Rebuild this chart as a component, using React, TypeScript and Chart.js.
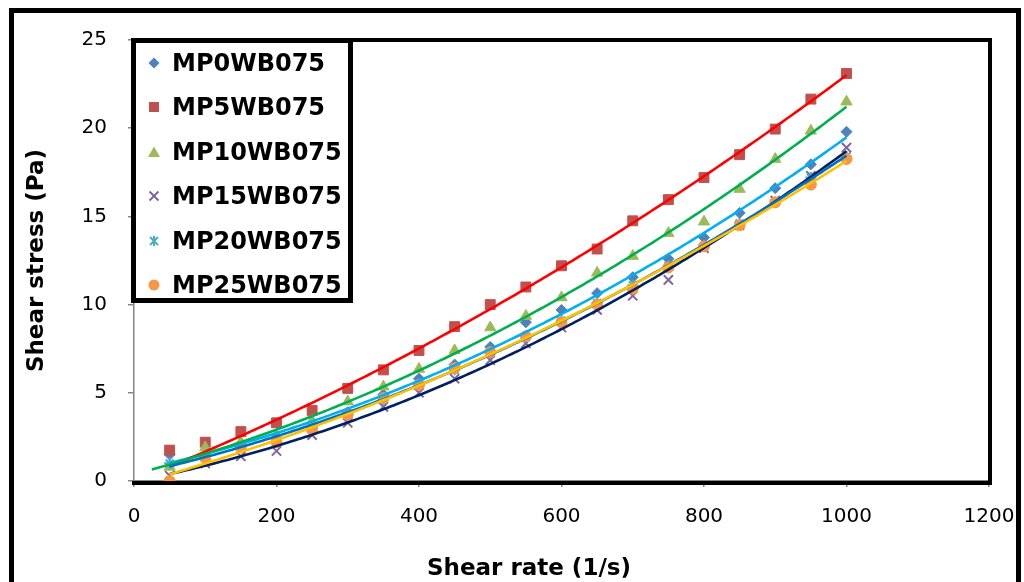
import React, { useEffect, useRef } from "react";
import { Chart, registerables } from "chart.js";

Chart.register(...registerables);

// ---------- data ----------
const shearRate = [50, 100, 150, 200, 250, 300, 350, 400, 450, 500, 550, 600, 650, 700, 750, 800, 850, 900, 950, 1000];

const mp0wb075 = [1.5, 1.4, 2.0, 2.4, 3.1, 3.9, 4.9, 5.8, 6.6, 7.6, 9.0, 9.7, 10.65, 11.55, 12.6, 13.8, 15.2, 16.6, 17.95, 19.8];
const mp5wb075 = [1.75, 2.2, 2.8, 3.3, 4.0, 5.25, 6.3, 7.4, 8.75, 10.0, 11.0, 12.2, 13.15, 14.75, 15.95, 17.2, 18.5, 19.95, 21.65, 23.1];
const mp10wb075 = [0.8, 1.9, 2.2, 2.6, 3.4, 4.5, 5.35, 6.35, 7.4, 8.7, 9.35, 10.4, 11.8, 12.75, 14.05, 14.7, 16.55, 18.25, 19.85, 21.5];
const mp15wb075 = [0.3, 1.0, 1.4, 1.7, 2.6, 3.3, 4.2, 5.0, 5.8, 6.85, 7.8, 8.7, 9.7, 10.5, 11.4, 13.2, 14.5, 15.9, 17.3, 18.9];
const mp20wb075 = [1.0, 1.4, 1.9, 2.4, 3.0, 3.8, 4.6, 5.5, 6.3, 7.3, 8.2, 9.1, 10.1, 11.1, 12.2, 13.3, 14.6, 15.8, 17.2, 18.4];
const mp25wb075 = [0.0, 1.3, 1.9, 2.2, 2.9, 3.75, 4.7, 5.45, 6.4, 7.3, 8.2, 9.0, 10.0, 10.9, 12.1, 13.3, 14.5, 15.8, 16.8, 18.25];

const seriesNames = ["MP0WB075", "MP5WB075", "MP10WB075", "MP15WB075", "MP20WB075", "MP25WB075"];
const seriesValues = [mp0wb075, mp5wb075, mp10wb075, mp15wb075, mp20wb075, mp25wb075];

// trendline settings (second-order polynomial fits, as in the spreadsheet)
const trendZeroIntercept = [false, true, false, false, false, false];
const trendStartX = [50, 50, 25, 50, 50, 50];
const trendEndX = 1000;

const xTickValues = [0, 200, 400, 600, 800, 1000, 1200];
const yTickValues = [0, 5, 10, 15, 20, 25];

const xTitle = "Shear rate (1/s)";
const yTitle = "Shear stress (Pa)";

// ---------- styles ----------
const markerStyles = [
  { pointStyle: "rectRot", radius: 5.5, color: "#4F81BD", borderWidth: 1 },
  { pointStyle: "rect", radius: 7, color: "#C0504D", borderWidth: 1 },
  { pointStyle: "triangle", radius: 6.5, color: "#9BBB59", borderWidth: 1 },
  { pointStyle: "crossRot", radius: 6.5, color: "#8064A2", borderWidth: 2 },
  { pointStyle: "star", radius: 5.5, color: "#4BACC6", borderWidth: 2 },
  { pointStyle: "circle", radius: 5.5, color: "#F79646", borderWidth: 1 },
];
const trendColors = ["#00B0F0", "#FF0000", "#00B050", "#002060", "#0070C0", "#FFC000"];

const FONT = "'DejaVu Sans', 'Open Sans', sans-serif";

// ---------- least squares polynomial (order 2) ----------
function polyFit(xs: number[], ys: number[], zeroIntercept: boolean): number[] {
  const powers = zeroIntercept ? [1, 2] : [0, 1, 2];
  const k = powers.length;
  const M: number[][] = Array.from({ length: k }, () => new Array(k + 1).fill(0));
  for (let i = 0; i < xs.length; i++) {
    const t = xs[i] / 1000;
    const b = powers.map((p) => Math.pow(t, p));
    for (let r = 0; r < k; r++) {
      for (let c = 0; c < k; c++) M[r][c] += b[r] * b[c];
      M[r][k] += b[r] * ys[i];
    }
  }
  for (let col = 0; col < k; col++) {
    let piv = col;
    for (let r = col + 1; r < k; r++) if (Math.abs(M[r][col]) > Math.abs(M[piv][col])) piv = r;
    [M[col], M[piv]] = [M[piv], M[col]];
    for (let r = 0; r < k; r++) {
      if (r === col) continue;
      const f = M[r][col] / M[col][col];
      for (let c = col; c <= k; c++) M[r][c] -= f * M[col][c];
    }
  }
  const coef = [0, 0, 0];
  powers.forEach((p, i) => (coef[p] = M[i][k] / M[i][i]));
  return coef;
}

function trendPoints(idx: number) {
  const coef = polyFit(shearRate, seriesValues[idx], trendZeroIntercept[idx]);
  const pts: { x: number; y: number }[] = [];
  for (let x = trendStartX[idx]; x <= trendEndX + 0.001; x += 5) {
    const t = x / 1000;
    pts.push({ x, y: coef[0] + coef[1] * t + coef[2] * t * t });
  }
  return pts;
}

const plotBorder = {
  id: "plotBorder",
  afterDraw(chart: any) {
    const { ctx, chartArea } = chart;
    const { left, top, right, bottom } = chartArea;
    ctx.save();
    ctx.strokeStyle = "#000";
    ctx.lineWidth = 4;
    ctx.lineCap = "square";
    ctx.beginPath();
    ctx.moveTo(left, top);
    ctx.lineTo(right + 1, top);
    ctx.lineTo(right + 1, bottom + 2);
    ctx.lineTo(left, bottom + 2);
    ctx.stroke();
    ctx.restore();
  },
};

function LegendMarker({ idx }: { idx: number }) {
  const c = markerStyles[idx].color;
  const s = 16;
  const m = s / 2;
  let shape: any = null;
  switch (idx) {
    case 0:
      shape = <polygon points={`${m},${m - 5.5} ${m + 5.5},${m} ${m},${m + 5.5} ${m - 5.5},${m}`} fill={c} />;
      break;
    case 1:
      shape = <rect x={m - 5} y={m - 5} width={10} height={10} fill={c} />;
      break;
    case 2:
      shape = <polygon points={`${m},${m - 5.5} ${m + 6},${m + 5} ${m - 6},${m + 5}`} fill={c} />;
      break;
    case 3:
      shape = (
        <g stroke={c} strokeWidth={2}>
          <line x1={m - 4.5} y1={m - 4.5} x2={m + 4.5} y2={m + 4.5} />
          <line x1={m - 4.5} y1={m + 4.5} x2={m + 4.5} y2={m - 4.5} />
        </g>
      );
      break;
    case 4:
      shape = (
        <g stroke={c} strokeWidth={2}>
          <line x1={m - 4} y1={m - 4} x2={m + 4} y2={m + 4} />
          <line x1={m - 4} y1={m + 4} x2={m + 4} y2={m - 4} />
          <line x1={m} y1={m - 5} x2={m} y2={m + 5} />
        </g>
      );
      break;
    default:
      shape = <circle cx={m} cy={m} r={5.5} fill={c} />;
  }
  return (
    <svg width={s} height={s} style={{ position: "absolute", left: 10, top: 7 }}>
      {shape}
    </svg>
  );
}

export default function App() {
  const canvasRef = useRef<HTMLCanvasElement | null>(null);

  useEffect(() => {
    if (!canvasRef.current) return;
    const datasets: any[] = [];
    seriesNames.forEach((name, i) => {
      datasets.push({
        label: name + " trend",
        data: trendPoints(i),
        showLine: true,
        borderColor: trendColors[i],
        borderWidth: 2.6,
        pointRadius: 0,
        fill: false,
        tension: 0,
        order: 5 - i,
      });
    });
    seriesNames.forEach((name, i) => {
      const ms = markerStyles[i];
      datasets.push({
        label: name,
        data: shearRate.map((x, j) => ({ x, y: seriesValues[i][j] })),
        showLine: false,
        pointStyle: ms.pointStyle,
        pointRadius: ms.radius,
        pointBackgroundColor: ms.color,
        pointBorderColor: ms.color,
        pointBorderWidth: ms.borderWidth,
        order: 11 - i,
      });
    });

    const chart = new Chart(canvasRef.current, {
      type: "scatter",
      data: { datasets },
      options: {
        animation: false,
        responsive: false,
        maintainAspectRatio: false,
        layout: { padding: { left: 0, top: 40, right: 35, bottom: 0 } },
        plugins: { legend: { display: false }, tooltip: { enabled: false }, title: { display: false } },
        scales: {
          x: {
            type: "linear",
            min: xTickValues[0],
            max: xTickValues[xTickValues.length - 1],
            afterBuildTicks: (scale: any) => {
              scale.ticks = xTickValues.map((v) => ({ value: v }));
            },
            afterFit: (scale: any) => {
              scale.height = 101;
              scale.paddingLeft = 0;
              scale.paddingRight = 0;
            },
            ticks: {
              color: "#000",
              font: { family: FONT, size: 20 },
              padding: 18,
              maxRotation: 0,
              callback: (v: any) => String(v),
            },
            grid: { display: true, drawOnChartArea: false, drawTicks: true, tickLength: 6, color: "#868686", lineWidth: 1.5 },
            border: { display: true, color: "#868686", width: 1.5 },
          },
          y: {
            type: "linear",
            min: yTickValues[0],
            max: yTickValues[yTickValues.length - 1],
            afterBuildTicks: (scale: any) => {
              scale.ticks = yTickValues.map((v) => ({ value: v }));
            },
            afterFit: (scale: any) => {
              scale.width = 134;
              scale.paddingTop = 0;
              scale.paddingBottom = 0;
            },
            ticks: { color: "#000", font: { family: FONT, size: 20 }, padding: 21, callback: (v: any) => String(v) },
            grid: { display: true, drawOnChartArea: false, drawTicks: true, tickLength: 6, color: "#868686", lineWidth: 1.5 },
            border: { display: true, color: "#868686", width: 1.5 },
            title: {
              display: true,
              text: yTitle,
              color: "#000",
              font: { family: FONT, size: 23, weight: "bold" },
              padding: { top: 23, bottom: 0 },
            },
          },
        },
      } as any,
      plugins: [plotBorder],
    });
    return () => chart.destroy();
  }, []);

  return (
    <div style={{ position: "absolute", left: 0, top: 0, width: 1024, height: 582, overflow: "hidden", background: "#fff" }}>
      <canvas ref={canvasRef} width={1024} height={582} style={{ position: "absolute", left: 0, top: 0 }} />
      {/* outer frame */}
      <div
        style={{
          position: "absolute",
          left: 9,
          top: 8,
          width: 1012,
          height: 620,
          boxSizing: "border-box",
          borderLeft: "5px solid #000",
          borderTop: "5px solid #000",
          borderRight: "5px solid #000",
        }}
      />
      {/* x axis title */}
      <div
        style={{
          position: "absolute",
          left: 329,
          top: 553,
          width: 400,
          textAlign: "center",
          fontFamily: FONT,
          fontWeight: "bold",
          fontSize: 23,
          lineHeight: "28px",
          color: "#000",
        }}
      >
        {xTitle}
      </div>
      {/* legend */}
      <div
        style={{
          position: "absolute",
          left: 131,
          top: 38,
          width: 222,
          height: 265,
          boxSizing: "border-box",
          border: "5px solid #000",
          background: "#fff",
        }}
      >
        {seriesNames.map((name, i) => (
          <div key={name} style={{ position: "absolute", left: 0, top: 5 + i * 44.4, width: 210, height: 30 }}>
            <LegendMarker idx={i} />
            <span
              style={{
                position: "absolute",
                left: 36,
                top: 0,
                fontFamily: FONT,
                fontWeight: "bold",
                fontSize: 24,
                lineHeight: "30px",
                color: "#000",
                whiteSpace: "nowrap",
              }}
            >
              {name}
            </span>
          </div>
        ))}
      </div>
    </div>
  );
}
